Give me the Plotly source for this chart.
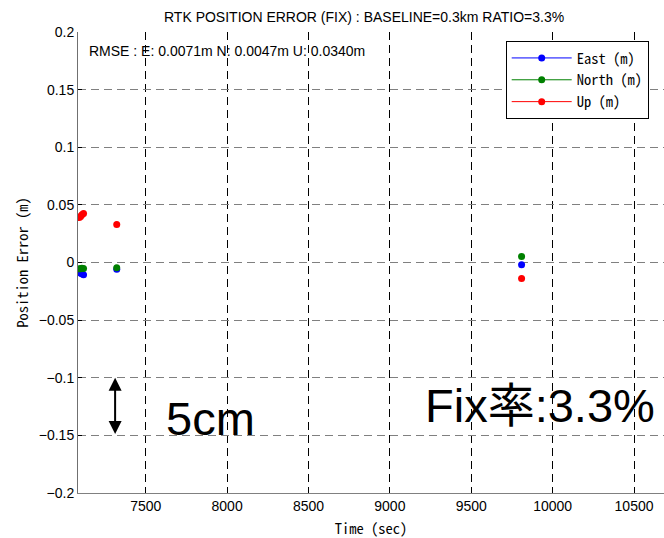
import plotly.graph_objects as go

# ---- data ----
time_sec = [7092, 7100, 7108, 7118, 7322, 9809]
east_m = [-0.0085, -0.0091, -0.0098, -0.0106, -0.0059, -0.0020]
north_m = [-0.0055, -0.0054, -0.0050, -0.0052, -0.0046, 0.0052]
up_m = [0.0390, 0.0400, 0.0415, 0.0426, 0.0330, -0.0138]

x_ticks = [7500, 8000, 8500, 9000, 9500, 10000, 10500]
x_ticklabels = ["7500", "8000", "8500", "9000", "9500", "10000", "10500"]
y_ticks = [-0.2, -0.15, -0.1, -0.05, 0, 0.05, 0.1, 0.15, 0.2]
y_ticklabels = ["\u22120.2", "\u22120.15", "\u22120.1", "\u22120.05", "0", "0.05", "0.1", "0.15", "0.2"]

title_text = "RTK POSITION ERROR (FIX) : BASELINE=0.3km RATIO=3.3%"
rmse_text = "RMSE : E: 0.0071m N: 0.0047m U: 0.0340m"
fix_text = "Fix率:3.3%"
scale_text = "5cm"

JP = "Noto Sans Mono CJK JP, Liberation Sans, sans-serif"
SANS = "Liberation Sans, Arial, sans-serif"


def gapped(xs, ys):
    gx, gy = [], []
    for a, b in zip(xs, ys):
        gx += [a, None]
        gy += [b, None]
    return gx, gy


series = [("East (m)", east_m, "#0000FF"),
          ("North (m)", north_m, "#008000"),
          ("Up (m)", up_m, "#FF0000")]

fig = go.Figure()
for name, vals, col in series:
    gx, gy = gapped(time_sec, vals)
    fig.add_trace(go.Scatter(
        x=gx, y=gy, name=name, mode="lines+markers",
        connectgaps=False,
        line=dict(color=col, width=1),
        marker=dict(color=col, size=7),
    ))

fig.update_layout(
    width=664, height=538,
    margin=dict(l=78, r=0, t=32, b=45),
    paper_bgcolor="white", plot_bgcolor="white",
    font=dict(family=SANS, size=14, color="black"),
    showlegend=True,
    legend=dict(
        x=(505.7 - 78) / 586, y=(493 - 41) / 461,
        xanchor="left", yanchor="top",
        bgcolor="white", bordercolor="black", borderwidth=1,
        font=dict(family=JP, size=14.5),
        tracegroupgap=0, itemwidth=60,
    ),
)

fig.update_xaxes(
    range=[7084, 10684],
    tickmode="array", tickvals=x_ticks, ticktext=x_ticklabels,
    showgrid=True, gridcolor="black", griddash="8px,5px", gridwidth=1,
    zeroline=False,
    showline=True, linecolor="#808080", linewidth=1,
    ticks="inside", ticklen=5, tickcolor="black",
    tickfont=dict(family=SANS, size=14),
    title=dict(text="Time (sec)", font=dict(family=JP, size=14.5), standoff=11),
)
fig.update_yaxes(
    range=[-0.2, 0.2],
    tickmode="array", tickvals=y_ticks, ticktext=y_ticklabels,
    showgrid=True, gridcolor="#808080", griddash="8px,5px", gridwidth=1,
    zeroline=False,
    showline=True, linecolor="#707070", linewidth=1,
    ticks="inside", ticklen=4, tickcolor="black",
    tickfont=dict(family=SANS, size=14),
    title=dict(text="Position Error (m)", font=dict(family=JP, size=14.5), standoff=6),
)

# title
fig.add_annotation(
    text=title_text, xref="paper", yref="paper",
    x=(364 - 78) / 586, y=(493 - 17) / 461, xanchor="center", yanchor="middle",
    showarrow=False, font=dict(family=SANS, size=14),
)
# RMSE
fig.add_annotation(
    text=rmse_text, xref="paper", yref="paper",
    x=(87 - 78) / 586, y=(493 - 51) / 461, xanchor="left", yanchor="middle",
    showarrow=False, font=dict(family=SANS, size=14),
)
# 5cm double arrow
fig.add_annotation(
    x=7312, y=-0.1, ax=7312, ay=-0.15, xref="x", yref="y", axref="x", ayref="y",
    text="", showarrow=True, arrowhead=2, startarrowhead=2, arrowside="end+start",
    arrowsize=1.3, startarrowsize=1.3, arrowwidth=2, arrowcolor="black",
)
fig.add_annotation(
    text=scale_text, xref="x", yref="y", x=7901, y=-0.1356,
    xanchor="center", yanchor="middle", showarrow=False,
    font=dict(family=SANS, size=47),
)
fig.add_annotation(
    text=fix_text, xref="x", yref="y", x=9922, y=-0.1245,
    xanchor="center", yanchor="middle", showarrow=False,
    font=dict(family="Liberation Sans, Noto Sans CJK JP, sans-serif", size=47),
)

fig.write_html("out.html")
